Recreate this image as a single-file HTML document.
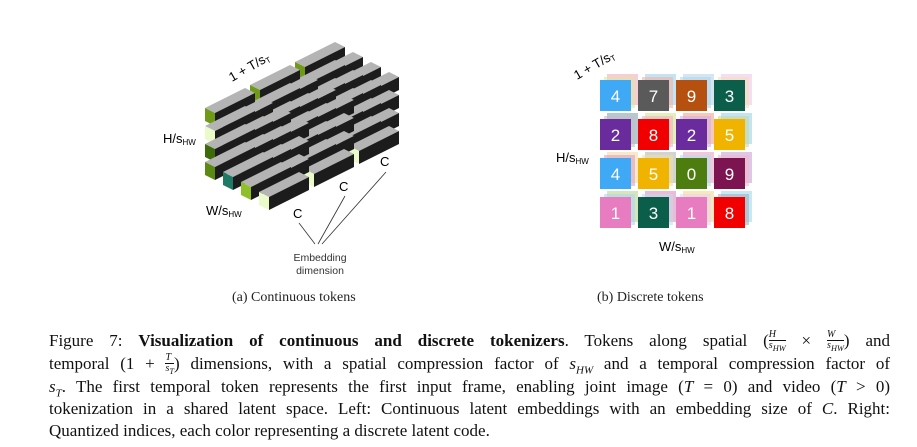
<!DOCTYPE html>
<html><head><meta charset="utf-8"><style>
body{margin:0;width:917px;height:447px;background:#fff;overflow:hidden;position:relative;font-family:"Liberation Serif",serif;}
.cap{position:absolute;left:49px;width:841px;font-size:17px;line-height:20px;text-align:justify;text-align-last:justify;white-space:nowrap;color:#111;}
.cap.last{text-align-last:left;}
.sub{position:absolute;font-size:14px;color:#222;}
.m{font-style:italic;}
.fr{display:inline-block;vertical-align:middle;text-align:center;font-size:10px;line-height:10px;font-style:italic;}
.fr span{display:block;}
.fr span:first-child{border-bottom:1px solid #111;}
</style></head><body>
<svg id="s" width="917" height="300" style="position:absolute;left:0;top:0" font-family="Liberation Sans, sans-serif"></svg>
<div class="sub" style="left:232px;top:290px">(a) Continuous tokens</div>
<div class="sub" style="left:597px;top:290px">(b) Discrete tokens</div>
<div class="cap" style="top:330px">Figure 7: <b>Visualization of continuous and discrete tokenizers</b>. Tokens along spatial (<span class="fr"><span>H</span><span>s<sub>HW</sub></span></span> × <span class="fr"><span>W</span><span>s<sub>HW</sub></span></span>) and</div>
<div class="cap" style="top:353px">temporal (1 + <span class="fr"><span>T</span><span>s<sub>T</sub></span></span>) dimensions, with a spatial compression factor of <span class="m">s<sub style="font-size:11px">HW</sub></span> and a temporal compression factor of</div>
<div class="cap" style="top:377px"><span class="m">s<sub style="font-size:11px">T</sub></span>. The first temporal token represents the first input frame, enabling joint image (<span class="m">T</span> = 0) and video (<span class="m">T</span> &gt; 0)</div>
<div class="cap" style="top:399px">tokenization in a shared latent space. Left: Continuous latent embeddings with an embedding size of <span class="m">C</span>. Right:</div>
<div class="cap last" style="top:421px">Quantized indices, each color representing a discrete latent code.</div>
<script>
var s=document.getElementById('s'),h='';
function poly(p,f){h+='<polygon points="'+p.map(function(a){return a.join(',')}).join(' ')+'" fill="'+f+'"/>';}
var greens=['#1e7a66','#c8f07a','#5a8a12','#3d6b0a','#eafac8','#6f9a18','#8fc02a','#4a7a10'];
var dx=40,dy=-20,k=0;
for(var l=2;l>=0;l--)for(var r=0;r<4;r++)for(var c=0;c<4;c++){
 var x=205+c*18+l*45,y=108+r*18+c*10-l*23;k++;
 var P0=[x,y],P1=[x+10,y+5],P2=[x+10,y+18],P3=[x,y+13];
 function a(p){return [p[0]+dx,p[1]+dy];}
 poly([P0,P1,a(P1),a(P0)],'#b4b4b4');
 poly([P1,P2,a(P2),a(P1)],'#1c1c1c');
 poly([P0,P1,P2,P3],greens[(k*5+r*3+c)%greens.length]);
}
h+='<text x="232" y="82" font-size="13" transform="rotate(-30 232 82)">1 + T/s<tspan font-size="8" dy="2">T</tspan></text>';
h+='<text x="163" y="143" font-size="13">H/s<tspan font-size="8" dy="2">HW</tspan></text>';
h+='<text x="206" y="215" font-size="13">W/s<tspan font-size="8" dy="2">HW</tspan></text>';
h+='<text x="293" y="218" font-size="13">C</text><text x="339" y="191" font-size="13">C</text><text x="380" y="166" font-size="13">C</text>';
h+='<g stroke="#333" stroke-width="0.8"><line x1="299" y1="223" x2="315" y2="244"/><line x1="345" y1="196" x2="318" y2="244"/><line x1="386" y1="172" x2="322" y2="244"/></g>';
h+='<text x="320" y="261" font-size="10.5" text-anchor="middle" fill="#333">Embedding</text><text x="320" y="274" font-size="10.5" text-anchor="middle" fill="#333">dimension</text>';
h+='<text x="577" y="80" font-size="13" transform="rotate(-30 577 80)">1 + T/s<tspan font-size="8" dy="2">T</tspan></text>';
h+='<text x="556" y="162" font-size="13">H/s<tspan font-size="8" dy="2">HW</tspan></text>';
h+='<text x="659" y="251" font-size="13">W/s<tspan font-size="8" dy="2">HW</tspan></text>';
var g=[['#3fa9f5',4,'#f5b8c8'],['#5a5a5a',7,'#a9d8f0'],['#b5500f',9,'#c8d8e8'],['#0b5e4a',3,'#f0d0f0'],
['#6a2c9c',2,'#9ab0c0'],['#f00000',8,'#d8e8a0'],['#6a2c9c',2,'#f5b0a0'],['#f0b400',5,'#a8d8f0'],
['#3fa9f5',4,'#f5e0b0'],['#f0b400',5,'#c0c0c0'],['#4e7d0f',0,'#f0b0c8'],['#7d1452',9,'#d0b0e0'],
['#e87cc0',1,'#c8d8a0'],['#0b5e4a',3,'#e0a0c8'],['#e87cc0',1,'#f0e0a0'],['#f00000',8,'#b0e0f0']];
for(var i=0;i<16;i++){var r=Math.floor(i/4),c=i%4,x=600+c*38,y=80+r*39;
 h+='<rect x="'+(x+7)+'" y="'+(y-6)+'" width="31" height="31" fill="'+g[i][2]+'" opacity="0.7"/>';
 h+='<rect x="'+(x+4)+'" y="'+(y-3)+'" width="31" height="31" fill="'+g[(i+5)%16][2]+'" opacity="0.6"/>';
 h+='<rect x="'+x+'" y="'+y+'" width="31" height="31" fill="'+g[i][0]+'"/>';
 h+='<text x="'+(x+15.5)+'" y="'+(y+22)+'" font-size="17" fill="#fff" text-anchor="middle">'+g[i][1]+'</text>';}
s.innerHTML=h;
</script>
</body></html>
